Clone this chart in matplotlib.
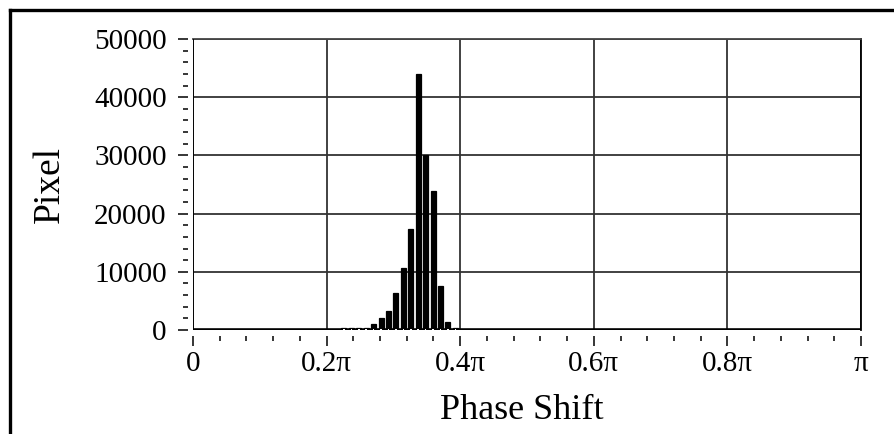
import numpy as np
import matplotlib
matplotlib.use('Agg')
from matplotlib import pyplot as plt
from matplotlib.lines import Line2D
from matplotlib.ticker import MultipleLocator

# histogram of phase shift, 2 degree bins
bin_left_deg = [40, 42, 44, 46, 48, 50, 52, 54, 56, 58, 60, 62, 64, 66, 68, 70]
bin_width_deg = 2
counts = [400, 400, 400, 400, 1000, 2000, 3200, 6300, 10700, 17300,
          44000, 30000, 23800, 7600, 1300, 400]

x_ticks = [0, 0.2, 0.4, 0.6, 0.8, 1.0]
x_tick_labels = ['0', '0.2\u03c0', '0.4\u03c0', '0.6\u03c0', '0.8\u03c0', '\u03c0']
y_ticks = [0, 10000, 20000, 30000, 40000, 50000]

plt.rcParams['font.family'] = ['Liberation Serif', 'DejaVu Serif']

fig = plt.figure(figsize=(8.95, 4.34), dpi=100)
ax = fig.add_axes([193/895, 1 - 330/434, 668/895, 291/434])

# bars in units of pi, drawn over most of each bin
left = np.array(bin_left_deg) / 180.0
w = bin_width_deg / 180.0
ax.bar(left, counts, width=0.68 * w, align='edge', color='black',
       edgecolor='black', linewidth=0.9, zorder=5)
# light centre at the foot of each bar, as in the original rendering
ax.bar(left + 0.34 * w, [250] * len(left), width=0.2 * w, bottom=-100,
       align='center', color='white', linewidth=0, zorder=6)

ax.set_xlim(0, 1)
ax.set_ylim(0, 50000)

ax.set_xticks(x_ticks)
ax.set_xticklabels(x_tick_labels)
ax.set_yticks(y_ticks)
ax.xaxis.set_minor_locator(MultipleLocator(0.04))
ax.yaxis.set_minor_locator(MultipleLocator(2000))

ax.grid(True, which='major', color='#333333', linewidth=1.3, zorder=1)
ax.set_axisbelow(True)

# axis lines drawn separately so ticks sit a little away from them
for s in ['left', 'bottom']:
    ax.spines[s].set_visible(False)
ax.spines['left'].set_position(('outward', 3.5))
ax.spines['bottom'].set_position(('outward', 4.5))
ax.spines['top'].set_color('#444444')
ax.spines['top'].set_linewidth(1.3)
ax.spines['right'].set_color('black')
ax.spines['right'].set_linewidth(1.3)
ax.axvline(0, color='black', linewidth=1.3, zorder=4)
ax.axhline(0, color='black', linewidth=2.6, zorder=4)

ax.tick_params(which='major', direction='out', length=7.5, width=1.1,
               labelsize=21, color='black')
ax.tick_params(which='minor', direction='out', length=3.5, width=1.1, color='black')
ax.tick_params(axis='y', which='major', pad=8)
ax.tick_params(axis='x', which='major', pad=3)

ax.set_xlabel('Phase Shift', fontsize=26, va='center')
ax.xaxis.set_label_coords(0.492, -0.275)
ax.set_ylabel('Pixel', fontsize=27, va='center')
ax.yaxis.set_label_coords(-0.215, 0.5)

# outer frame (top and left edges)
fig.add_artist(Line2D([10/895, 1], [1 - 10/434, 1 - 10/434], color='black', linewidth=2.4))
fig.add_artist(Line2D([10/895, 10/895], [0, 1 - 10/434], color='black', linewidth=2.4))

plt.savefig('out.png', dpi=100, facecolor='white')
